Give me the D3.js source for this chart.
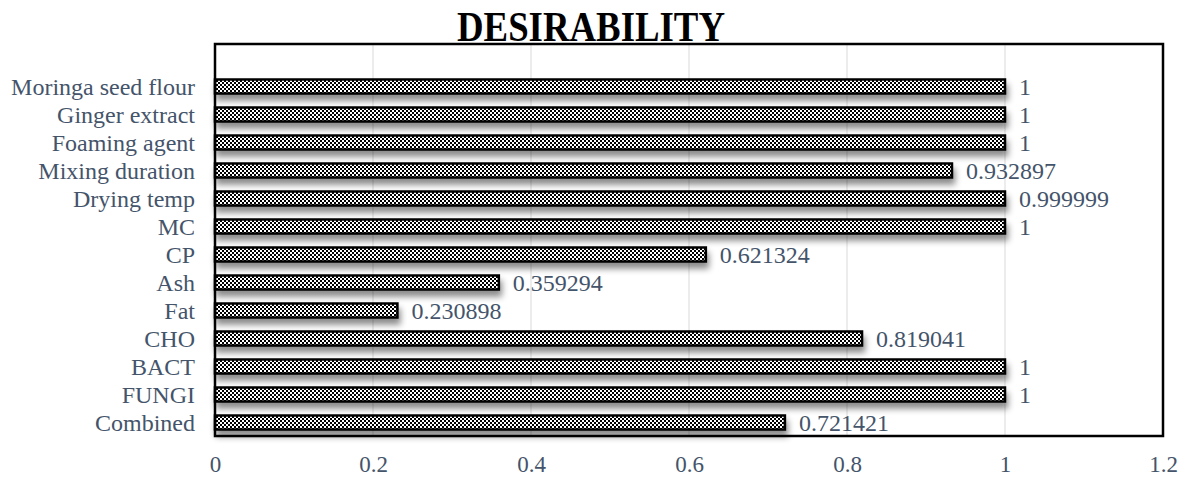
<!DOCTYPE html>
<html><head><meta charset="utf-8">
<script src="https://cdn.jsdelivr.net/npm/d3@7"></script>
<style>body{margin:0;background:#fff}</style>
</head><body>
<svg id="c" width="1183" height="479"></svg>
<script>
const categories = ["Moringa seed flour","Ginger extract","Foaming agent","Mixing duration","Drying temp","MC","CP","Ash","Fat","CHO","BACT","FUNGI","Combined"];
const values = [1,1,1,0.932897,0.999999,1,0.621324,0.359294,0.230898,0.819041,1,1,0.721421];
const valueLabels = ["1","1","1","0.932897","0.999999","1","0.621324","0.359294","0.230898","0.819041","1","1","0.721421"];
const ticks = [0,0.2,0.4,0.6,0.8,1,1.2];
const title = "DESIRABILITY";

const svg = d3.select("#c");
const L=215, R=1163, T=44, B=436;
const txt = "#44546A";
const font = "'Liberation Serif','Times New Roman',serif";

const defs = svg.append("defs");
const pat = defs.append("pattern").attr("id","chk").attr("patternUnits","userSpaceOnUse")
  .attr("width",4).attr("height",4);
pat.append("rect").attr("width",4).attr("height",4).attr("fill","#fff");
pat.append("rect").attr("width",2).attr("height",2).attr("fill","#000");
pat.append("rect").attr("x",2).attr("y",2).attr("width",2).attr("height",2).attr("fill","#000");
const f = defs.append("filter").attr("id","sh").attr("x","-5%").attr("y","-50%").attr("width","110%").attr("height","250%");
f.append("feDropShadow").attr("dx",2).attr("dy",6).attr("stdDeviation",3)
  .attr("flood-color","#000").attr("flood-opacity",0.45);

const x = d3.scaleLinear().domain([0,1.2]).range([L,R]);
const y = d3.scaleBand().domain([""].concat(categories)).range([T,B]).paddingInner(0.5).paddingOuter(0.25);

svg.append("g").selectAll("line").data(ticks.slice(1,-1)).join("line")
  .attr("x1",d=>x(d)).attr("x2",d=>x(d)).attr("y1",T).attr("y2",B)
  .attr("stroke","#d9d9d9").attr("stroke-width",1);

svg.append("g").selectAll("rect").data(categories).join("rect")
  .attr("x",x(0)).attr("y",d=>y(d)+0.5)
  .attr("width",(d,i)=>x(values[i])-x(0)).attr("height",y.bandwidth())
  .attr("fill","url(#chk)").attr("stroke","#000").attr("stroke-width",2.5)
  .attr("filter","url(#sh)");

svg.append("g").selectAll("text").data(categories).join("text")
  .attr("x",(d,i)=>x(values[i])+14).attr("y",d=>y(d)+y.bandwidth()/2+1)
  .attr("dy","0.35em").attr("fill",txt).attr("font-family",font).attr("font-size",24)
  .text((d,i)=>valueLabels[i]);

const ya = svg.append("g").attr("transform",`translate(${L-20},1)`)
  .call(d3.axisLeft(y).tickSize(0).tickPadding(0));
ya.select(".domain").remove();
ya.selectAll("text").attr("fill",txt).attr("font-family",font).attr("font-size",24);

const xa = svg.append("g").attr("transform",`translate(0,${B+20})`)
  .call(d3.axisBottom(x).tickValues(ticks).tickSize(0).tickPadding(0).tickFormat(d3.format("~g")));
xa.select(".domain").remove();
xa.selectAll("text").attr("fill",txt).attr("font-family",font).attr("font-size",23).attr("dy","0.71em");

svg.append("rect").attr("x",L).attr("y",T).attr("width",R-L).attr("height",B-T)
  .attr("fill","none").attr("stroke","#000").attr("stroke-width",2.5);

svg.append("text").attr("x",591).attr("y",41).attr("text-anchor","middle")
  .attr("font-family",font).attr("font-weight","bold").attr("font-size",42).attr("fill","#000")
  .attr("textLength",268).attr("lengthAdjust","spacingAndGlyphs")
  .text(title);
</script>
</body></html>
